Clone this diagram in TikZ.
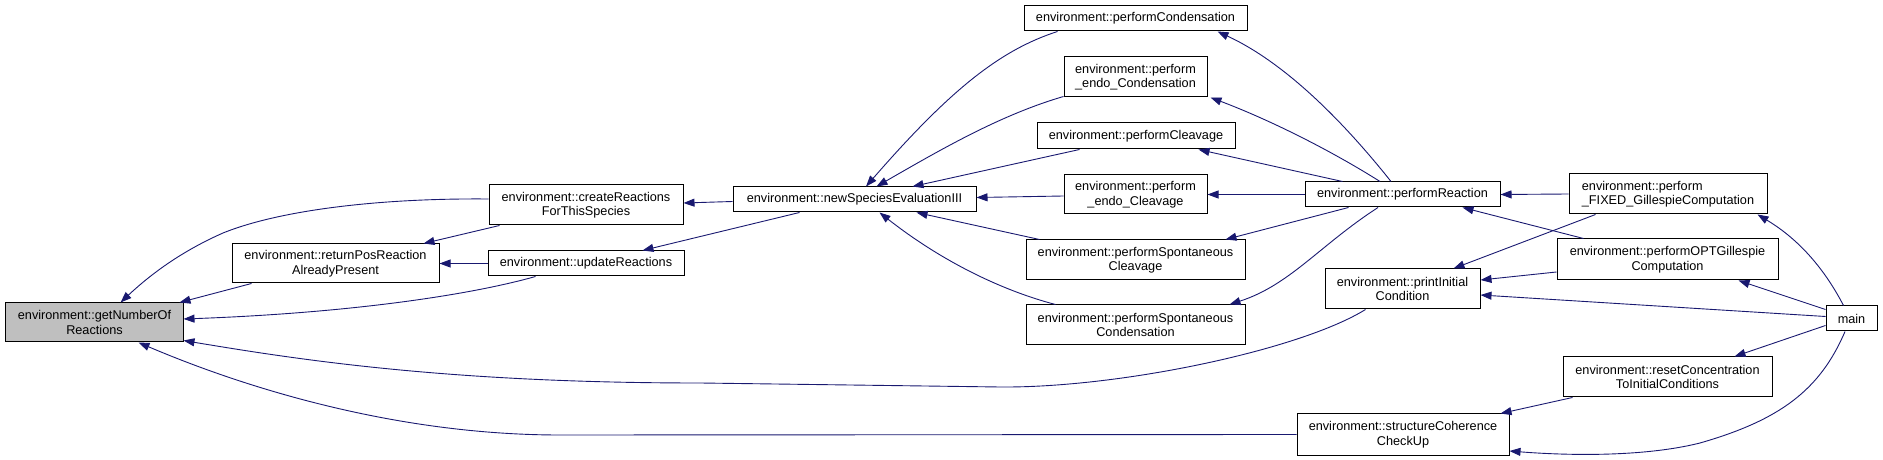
\documentclass[tikz,border=0pt]{standalone}
\usepackage{fontspec}
\setmainfont{Liberation Sans}
\usetikzlibrary{arrows.meta}
\definecolor{edgec}{RGB}{25,25,112}
\definecolor{fillg}{RGB}{191,191,191}
\begin{document}
\begin{tikzpicture}[x=1bp,y=-1bp,
  nbox/.style={draw=black, line width=1bp, fill=white, inner sep=0pt, align=center, text=black,
    font=\fontsize{12.7bp}{14.5bp}\selectfont},
  edge/.style={draw=edgec, line width=0.9bp, {Triangle[length=11bp,width=8bp]}-}]
\useasboundingbox (0,0) rectangle (1883,460);
% nodes
\node[nbox, fill=fillg, minimum width=177bp, minimum height=39bp] (A) at (94.5,322.5) {environment::getNumberOf\\Reactions};
\node[nbox, minimum width=207bp, minimum height=39bp] (B) at (335.5,263.5) {environment::returnPosReaction\\AlreadyPresent};
\node[nbox, minimum width=194bp, minimum height=40bp] (C) at (586,205) {environment::createReactions\\ForThisSpecies};
\node[nbox, minimum width=196bp, minimum height=25bp] (D) at (586,263.5) {environment::updateReactions};
\node[nbox, minimum width=243bp, minimum height=25bp] (E) at (854.5,199.5) {environment::newSpeciesEvaluationIII};
\node[nbox, minimum width=223bp, minimum height=25bp] (F) at (1135.5,18.5) {environment::performCondensation};
\node[nbox, minimum width=143bp, minimum height=40bp] (G) at (1135.5,77) {environment::perform\\\_endo\_Condensation};
\node[nbox, minimum width=198bp, minimum height=26bp] (H) at (1136,136) {environment::performCleavage};
\node[nbox, minimum width=143bp, minimum height=39bp] (I) at (1135.5,194.5) {environment::perform\\\_endo\_Cleavage};
\node[nbox, minimum width=219bp, minimum height=40bp] (J) at (1135.5,260) {environment::performSpontaneous\\Cleavage};
\node[nbox, minimum width=219bp, minimum height=40bp] (K) at (1135.5,325) {environment::performSpontaneous\\Condensation};
\node[nbox, minimum width=195bp, minimum height=25bp] (L) at (1402.5,194.5) {environment::performReaction};
\node[nbox, minimum width=155bp, minimum height=40bp] (M) at (1402.5,289) {environment::printInitial\\Condition};
\node[nbox, minimum width=212bp, minimum height=41bp] (N) at (1403,434.5) {environment::structureCoherence\\CheckUp};
\node[nbox, align=left, minimum width=198bp, minimum height=40bp] (O) at (1668,194) {environment::perform\\\_FIXED\_GillespieComputation};
\node[nbox, minimum width=221bp, minimum height=41bp] (P) at (1667.5,259.5) {environment::performOPTGillespie\\Computation};
\node[nbox, minimum width=209bp, minimum height=40bp] (Q) at (1667.5,377) {environment::resetConcentration\\ToInitialConditions};
\node[nbox, minimum width=51bp, minimum height=25bp] (R) at (1851.5,318.5) {main};
% edges (tip at callee)
\draw[edge] ([xshift=115bp]A.north west) .. controls (150,275) and (180,252) .. (223,233) .. controls (280,210) and (380,198) .. ([yshift=6bp]C.west);
\draw[edge] ([xshift=-4bp]A.north east) -- ([xshift=20bp]B.south west);
\draw[edge] ([yshift=3.5bp]A.east) .. controls (350,313) and (470,295) .. ([xshift=48bp]D.south west);
\draw[edge] ([yshift=2bp]A.south east) .. controls (300,360) and (450,383) .. (700,383) -- (1000,387) .. controls (1120,388) and (1300,350) .. ([xshift=41bp]M.south west);
\draw[edge] ([xshift=-45bp]A.south east) .. controls (250,390) and (400,435) .. (560,435) -- (N.west);
\draw[edge] ([yshift=2bp]C.east) -- ([yshift=-2bp]E.west);
\draw[edge] (B.east) -- (D.west);
\draw[edge] ([xshift=-16bp]B.north east) -- ([xshift=11bp]C.south west);
\draw[edge] ([xshift=-42bp]D.north east) -- ([xshift=67bp]E.south west);
\draw[edge] ([xshift=11.5bp]E.north) .. controls (950,90) and (1000,50) .. ([xshift=34bp]F.south west);
\draw[edge] ([xshift=22bp]E.north) .. controls (940,150) and (1000,115) .. ([yshift=1bp]G.south west);
\draw[edge] ([xshift=58bp]E.north) -- ([xshift=43bp]H.south west);
\draw[edge] ([yshift=2bp]E.east) -- ([yshift=-1.5bp]I.west);
\draw[edge] ([xshift=62bp]E.south) -- ([xshift=14bp]J.north west);
\draw[edge] ([xshift=25bp]E.south) .. controls (940,260) and (1000,290) .. ([xshift=30bp]K.north west);
\draw[edge] ([xshift=-30bp]F.south east) .. controls (1290,65) and (1350,130) .. ([xshift=-11.5bp]L.north);
\draw[edge] ([xshift=3bp]G.south east) .. controls (1270,120) and (1330,150) .. ([xshift=-22.5bp]L.north);
\draw[edge] ([xshift=-37bp]H.south east) -- ([xshift=38bp]L.north west);
\draw[edge] (I.east) -- (L.west);
\draw[edge] ([xshift=-20bp]J.north east) -- ([xshift=44bp]L.south west);
\draw[edge] ([xshift=-16bp]K.north east) .. controls (1290,285) and (1320,245) .. ([xshift=-24.5bp]L.south);
\draw[edge] (L.east) -- (O.west);
\draw[edge] ([xshift=-38bp]L.south east) -- ([xshift=27bp]P.north west);
\draw[edge] ([xshift=-27bp]M.north east) -- ([xshift=27bp]O.south west);
\draw[edge] ([yshift=9bp]M.east) -- ([yshift=-12.5bp]P.west);
\draw[edge] ([yshift=-6bp]M.east) -- ([yshift=2bp]R.west);
\draw[edge] ([xshift=-10bp]O.south east) .. controls (1800,240) and (1825,270) .. ([xshift=-8bp]R.north);
\draw[edge] ([xshift=-40bp]P.south east) -- ([yshift=9bp]R.west);
\draw[edge] ([xshift=-38bp]Q.north east) -- ([yshift=-7bp]R.west);
\draw[edge] ([xshift=-9bp]N.north east) -- ([xshift=10bp]Q.south west);
\draw[edge] ([yshift=-16.5bp]N.east) .. controls (1560,455) and (1640,458) .. (1700,443) .. controls (1780,420) and (1820,390) .. ([xshift=-6.5bp]R.south);
\end{tikzpicture}
\end{document}
